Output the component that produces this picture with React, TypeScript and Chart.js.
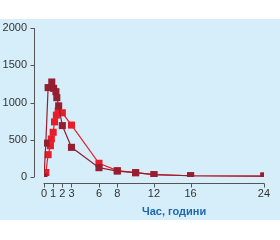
import React, { useEffect, useRef } from "react";
import { Chart, registerables } from "chart.js";

Chart.register(...registerables);

const darkTimes = [0, 0.2, 0.45, 0.85, 1.05, 1.3, 1.4, 1.6, 2, 3, 6, 8, 10, 12, 16, 24];
const darkValues = [0, 455, 1200, 1275, 1190, 1145, 1065, 955, 690, 398, 125, 80, 58, 31, 17, 13];
const redTimes = [0.2, 0.45, 0.7, 0.8, 1.0, 1.15, 1.35, 1.55, 2, 3, 6, 8, 10, 12, 16, 24];
const redValues = [60, 300, 420, 510, 600, 740, 830, 885, 862, 697, 184, 85, 58, 31, 17, 13];
const xTicks = [0, 1, 2, 3, 6, 8, 12, 16, 24];
const yTicks = [0, 500, 1000, 1500, 2000];
const xTitle = "Час, години";

const DARK = "#931f30";
const RED = "#e61e2b";
const AXIS = "#555555";
const TEXT = "#333333";
const BG = "#d6eefa";

export default function App() {
  const ref = useRef<HTMLCanvasElement>(null);
  useEffect(() => {
    const canvas = ref.current;
    if (!canvas) return;
    const bgPlugin = {
      id: "bg",
      beforeDraw(chart: any) {
        const ctx = chart.ctx;
        ctx.save();
        ctx.fillStyle = BG;
        ctx.fillRect(0, 19, 280, 201);
        ctx.restore();
      },
      beforeDatasetsDraw(chart: any) {
        const ctx = chart.ctx;
        const xs = chart.scales.x;
        const ys = chart.scales.y;
        ctx.save();
        ctx.strokeStyle = AXIS;
        ctx.lineWidth = 1;
        const ax = Math.round(xs.getPixelForValue(0)) - 10 + 0.5;
        ctx.beginPath();
        ctx.moveTo(ax, ys.getPixelForValue(2000));
        ctx.lineTo(ax, ys.getPixelForValue(0));
        for (const v of yTicks) {
          const py = Math.round(ys.getPixelForValue(v)) + 0.5;
          ctx.moveTo(ax - 4, py);
          ctx.lineTo(ax, py);
        }
        ctx.stroke();
        const ay = Math.round(ys.getPixelForValue(0)) + 6 + 0.5;
        ctx.beginPath();
        ctx.moveTo(xs.getPixelForValue(0) - 0.5, ay);
        ctx.lineTo(xs.getPixelForValue(24) + 0.5, ay);
        for (const v of xTicks) {
          const px = Math.round(xs.getPixelForValue(v)) + 0.5;
          ctx.moveTo(px, ay);
          ctx.lineTo(px, ay + 4);
        }
        ctx.stroke();
        ctx.restore();
      },
    };
    const chart = new Chart(canvas, {
      type: "line",
      data: {
        datasets: [
          {
            data: darkTimes.map((t, i) => ({ x: t, y: darkValues[i] })),
            borderColor: DARK,
            backgroundColor: DARK,
            borderWidth: 1.2,
            pointStyle: "rect",
            pointRadius: 5,
            pointBorderWidth: 0,
            pointBackgroundColor: DARK,
            tension: 0,
          },
          {
            data: redTimes.map((t, i) => ({ x: t, y: redValues[i] })),
            borderColor: RED,
            backgroundColor: RED,
            borderWidth: 1.2,
            pointStyle: "rect",
            pointRadius: 5,
            pointBorderWidth: 0,
            pointBackgroundColor: RED,
            tension: 0,
          },
        ],
      },
      options: {
        animation: false,
        responsive: false,
        layout: { padding: { left: 0, right: 9, top: 28, bottom: 33 } },
        plugins: { legend: { display: false }, tooltip: { enabled: false } },
        scales: {
          x: {
            type: "linear",
            min: 0,
            max: 24,
            grid: { display: false, drawTicks: false, tickLength: 0 },
            border: { display: false },
            afterBuildTicks: (s: any) => {
              s.ticks = xTicks.map((v) => ({ value: v }));
            },
            afterFit: (s: any) => {
              s.height = 30;
            },
            ticks: {
              autoSkip: false,
              maxRotation: 0,
              padding: 10,
              color: TEXT,
              font: { family: "Liberation Sans", size: 11 },
              callback: (v: any) => String(v),
            },
          },
          y: {
            min: 0,
            max: 2000,
            grid: { display: false, drawTicks: false, tickLength: 0 },
            border: { display: false },
            afterBuildTicks: (s: any) => {
              s.ticks = yTicks.map((v) => ({ value: v }));
            },
            afterFit: (s: any) => {
              s.width = 44;
            },
            ticks: {
              padding: 17,
              color: TEXT,
              font: { family: "Liberation Sans", size: 11 },
              callback: (v: any) => String(v),
            },
          },
        },
      },
      plugins: [bgPlugin],
    });
    return () => chart.destroy();
  }, []);
  return (
    <div style={{ position: "fixed", left: 0, top: 0, width: 280, height: 240, background: "#ffffff" }}>
      <canvas ref={ref} width={280} height={240} style={{ display: "block" }} />
      <div
        style={{
          position: "absolute",
          left: 142,
          top: 204,
          fontFamily: "Liberation Sans",
          fontWeight: "bold",
          fontSize: 11,
          lineHeight: "14px",
          color: "#1f67b3",
          whiteSpace: "nowrap",
        }}
      >
        {xTitle}
      </div>
    </div>
  );
}
